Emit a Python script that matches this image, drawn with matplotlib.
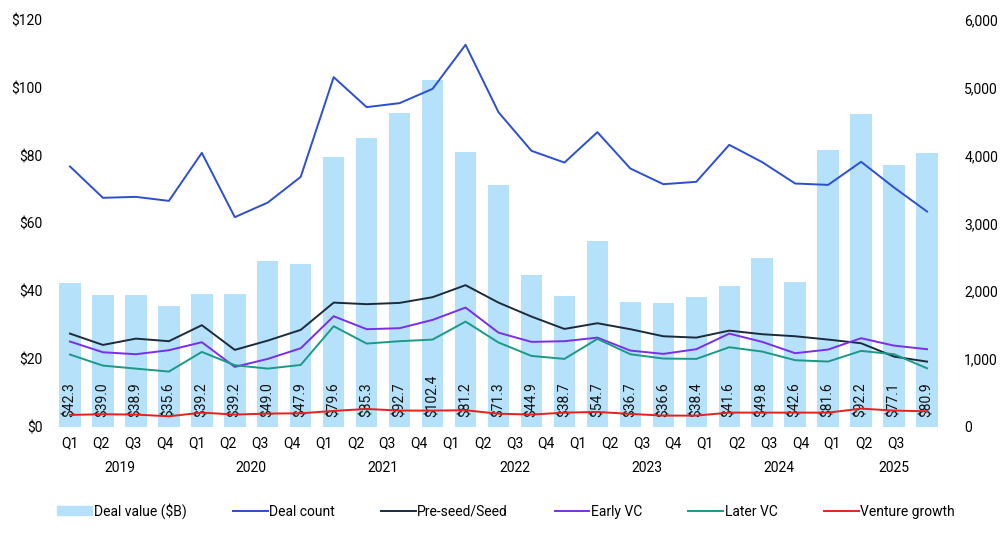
import matplotlib
matplotlib.use('Agg')
import matplotlib.pyplot as plt
from matplotlib.patches import Patch
from matplotlib.lines import Line2D
from matplotlib.ticker import FuncFormatter

plt.rcParams['font.family'] = ['Roboto', 'DejaVu Sans']
plt.rcParams['font.size'] = 10

years = ['2019', '2020', '2021', '2022', '2023', '2024', '2025']
quarters = ['Q1', 'Q2', 'Q3', 'Q4'] * 6 + ['Q1', 'Q2', 'Q3']

deal_value = [42.3, 39.0, 38.9, 35.6, 39.2, 39.2, 49.0, 47.9, 79.6, 85.3, 92.7, 102.4,
              81.2, 71.3, 44.9, 38.7, 54.7, 36.7, 36.6, 38.4, 41.6, 49.8, 42.6, 81.6,
              92.2, 77.1, 80.9]
deal_count = [3840, 3378, 3392, 3333, 4041, 3093, 3308, 3687, 5157, 4715, 4774, 4985,
              5634, 4640, 4071, 3898, 4346, 3810, 3579, 3614, 4159, 3904, 3589, 3569,
              3909, 3530, 3176]
preseed = [1376, 1209, 1302, 1264, 1500, 1136, 1273, 1431, 1833, 1810, 1829, 1913,
           2090, 1833, 1627, 1445, 1529, 1441, 1337, 1317, 1420, 1367, 1337, 1288,
           1234, 1037, 963]
early_vc = [1259, 1101, 1072, 1131, 1249, 885, 1003, 1160, 1632, 1441, 1456, 1578,
            1760, 1390, 1254, 1264, 1317, 1126, 1077, 1146, 1376, 1254, 1087, 1141,
            1308, 1199, 1146]
later_vc = [1067, 904, 860, 816, 1106, 910, 860, 914, 1485, 1229, 1264, 1288,
            1553, 1245, 1047, 1003, 1298, 1072, 1008, 1003, 1175, 1111, 984, 964,
            1121, 1072, 865]
venture_growth = [177, 187, 182, 157, 211, 182, 197, 201, 236, 265, 241, 241,
                  246, 195, 182, 211, 221, 192, 167, 167, 211, 211, 211, 211,
                  270, 241, 231]

c_bar = '#b5e1fa'
c_count = '#2b4fcf'
c_seed = '#1c2b3c'
c_early = '#7a2ee8'
c_later = '#1a9a86'
c_growth = '#e8201c'

fig = plt.figure(figsize=(10, 5.33), dpi=100)
ax = fig.add_axes([0.0535, 0.199, 0.89, 0.7635])
ax2 = ax.twinx()

x = list(range(len(deal_value)))
ax.bar(x, deal_value, width=0.65, color=c_bar, zorder=1)
for xi, v in zip(x, deal_value):
    ax.annotate('$%.1f' % v, (xi, 0), xytext=(0, 7), textcoords='offset points',
                rotation=90, ha='center', va='bottom', fontsize=10, color='#111111')

lw = 1.4
ax2.plot(x, deal_count, color=c_count, lw=lw)
ax2.plot(x, preseed, color=c_seed, lw=lw)
ax2.plot(x, early_vc, color=c_early, lw=lw)
ax2.plot(x, later_vc, color=c_later, lw=lw)
ax2.plot(x, venture_growth, color=c_growth, lw=lw)

ax.set_xlim(-0.5, len(x) - 0.5)
ax.set_ylim(0, 120)
ax2.set_ylim(0, 6000)
ax.set_yticks(range(0, 121, 20))
ax2.set_yticks(range(0, 6001, 1000))
ax.yaxis.set_major_formatter(FuncFormatter(lambda v, p: '$%d' % v))
ax2.yaxis.set_major_formatter(FuncFormatter(lambda v, p: '{:,.0f}'.format(v)))
ax.tick_params(axis='y', length=0, pad=8, labelsize=10)
ax2.tick_params(axis='y', length=0, pad=15, labelsize=10)
ax.set_xticks([])
for a in (ax, ax2):
    for s in a.spines.values():
        s.set_visible(False)

# quarter labels are spread over 28 slots in the original
tr = ax.get_xaxis_transform()
n = len(quarters)
for i, q in enumerate(quarters):
    pos = (i + 0.5) * n / (n + 1) - 0.5
    ax.text(pos, -0.04, q, transform=tr, ha='center', va='center', fontsize=10)

for k, yr in enumerate(years):
    idx = [i for i in range(len(x)) if i // 4 == k]
    ax.text(sum(idx) / len(idx), -0.102, yr, transform=tr, ha='center', va='center',
            fontsize=10)

handles = [Patch(color=c_bar),
           Line2D([], [], color=c_count, lw=lw),
           Line2D([], [], color=c_seed, lw=lw),
           Line2D([], [], color=c_early, lw=lw),
           Line2D([], [], color=c_later, lw=lw),
           Line2D([], [], color=c_growth, lw=lw)]
labels = ['Deal value ($B)', 'Deal count', 'Pre-seed/Seed', 'Early VC', 'Later VC',
          'Venture growth']
fig.legend(handles, labels, loc='center', bbox_to_anchor=(0.506, 0.041), ncol=6,
           frameon=False, fontsize=10, handlelength=2.5, handletextpad=0.1,
           columnspacing=3.35, handleheight=0.6)

fig.savefig('out.png', dpi=100)
